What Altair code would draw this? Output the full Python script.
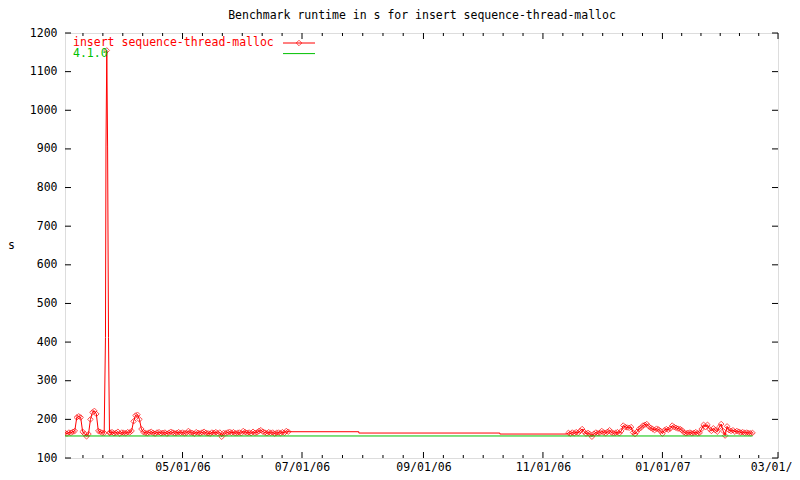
import altair as alt
import pandas as pd

TITLE = "Benchmark runtime in s for insert sequence-thread-malloc"
Y_TITLE = "s"
SERIES = ["insert sequence-thread-malloc", "4.1.0"]
COLORS = ["#ff0000", "#00c000"]
FONT = "DejaVu Sans Mono"
FS = 11.5

# dense daily runs, spring 2006 (None = replaced by the intra-day spike runs)
P1_START = "2006-03-02"
P1_VALUES = [
    165, 163, 166, 165, 168, 170, 205, 208, 205, 168,
    163, 156, 162, 200, 218, 222, 214, 170, 168, 165,
    165, None, None, 166, 167, 164, 165, 168, 163, 166,
    165, 164, 167, 166, 170, 195, 210, 212, 200, 175,
    167, 165, 164, 166, 168, 165, 163, 166, 167, 164,
    165, 166, 163, 165, 168, 166, 164, 165, 167, 165,
    166, 164, 165, 170, 166, 165, 163, 167, 165, 164,
    166, 168, 165, 164, 163, 166, 165, 167, 164, 166,
    155, 165, 164, 166, 168, 165, 167, 164, 165, 166,
    164, 170, 167, 165, 166, 164, 168, 165, 166, 170,
    172, 168, 166, 164, 167, 165, 166, 163, 165, 166,
    164, 167, 165, 170, 168,
]

# spike runs (several per day)
SPIKE_TIMES = ["2006-03-22T16:00", "2006-03-22T22:00", "2006-03-23T08:00",
               "2006-03-23T18:00", "2006-03-24T05:00", "2006-03-24T17:00"]
SPIKE_VALUES = [412, 905, 1155, 905, 412, 165]
SPIKE_MARKED = [False, False, True, False, False, True]

# sparse runs over the summer / autumn gap
STEP_TIMES = ["2006-07-30", "2006-07-30", "2006-10-10", "2006-10-10", "2006-11-13"]
STEP_VALUES = [168, 164.6, 164.6, 162, 162]

# dense daily runs, winter 2006/07
P2_START = "2006-11-14"
P2_VALUES = [
    165, 163, 166, 164, 167, 165, 170, 175, 168, 163,
    165, 162, 155, 163, 166, 164, 165, 170, 166, 164,
    168, 172, 166, 164, 165, 167, 164, 170, 184, 180,
    179, 178, 180, 166, 162, 168, 175, 178, 184, 186,
    188, 182, 178, 175, 172, 176, 174, 170, 163, 172,
    175, 173, 176, 184, 180, 178, 176, 175, 172, 166,
    164, 165, 166, 164, 165, 167, 164, 165, 175, 186,
    180, 186, 175, 170, 177, 172, 168, 180, 188, 170,
    158, 182, 172, 170, 172, 168, 170, 168, 166, 167,
    165, 166, 165, 164, 165,
]

REF_TIMES = ["2006-03-02", "2007-02-16"]
REF_VALUES = [157, 157]

X_DOMAIN = ["2006-03-02", "2007-03-01"]
MAJOR_TICKS = ["2006-05-01", "2006-07-01", "2006-09-01", "2006-11-01", "2007-01-01", "2007-03-01"]
MINOR_ANCHOR = "2006-03-01"
Y_TICKS = list(range(100, 1201, 100))

W, H = 713, 425


def iso(ts):
    return pd.Timestamp(ts).strftime("%Y-%m-%dT%H:%M:%SZ")


def dt(s):
    t = pd.Timestamp(s)
    return alt.DateTime(year=t.year, month=t.month, date=t.day, utc=True)


rows = []
for d, v in zip(pd.date_range(P1_START, periods=len(P1_VALUES), freq="D"), P1_VALUES):
    if v is not None:
        rows.append((pd.Timestamp(d), v, True))
for t, v, m in zip(SPIKE_TIMES, SPIKE_VALUES, SPIKE_MARKED):
    rows.append((pd.Timestamp(t), v, m))
for t, v in zip(STEP_TIMES, STEP_VALUES):
    rows.append((pd.Timestamp(t), v, False))
for d, v in zip(pd.date_range(P2_START, periods=len(P2_VALUES), freq="D"), P2_VALUES):
    rows.append((pd.Timestamp(d), v, True))

df = pd.DataFrame(rows, columns=["ts", "v", "pt"])
df = df.sort_values("ts", kind="mergesort").reset_index(drop=True)
df["ord"] = range(len(df))
df["t"] = df["ts"].map(iso)
df = df[["t", "v", "pt", "ord"]]

ref_df = pd.DataFrame({"t": [iso(t) for t in REF_TIMES], "v": REF_VALUES})

# tick positions (major + 5 minor ticks between each pair of majors)
anchors = [pd.Timestamp(MINOR_ANCHOR)] + [pd.Timestamp(s) for s in MAJOR_TICKS]
minor = []
for a, b in zip(anchors[:-1], anchors[1:]):
    for k in range(1, 6):
        minor.append(a + (b - a) * k / 6)
major_df = pd.DataFrame({"t": [iso(s) for s in MAJOR_TICKS]})
minor_df = pd.DataFrame({"t": [iso(s) for s in minor]})
ytick_df = pd.DataFrame({"v": Y_TICKS})

x_scale = alt.Scale(type="utc", domain=[dt(X_DOMAIN[0]), dt(X_DOMAIN[1])])
y_scale = alt.Scale(domain=[100, 1200], nice=False, zero=False)

x_axis = alt.Axis(values=[dt(s) for s in MAJOR_TICKS], format="%m/%d/%y",
                  ticks=False, tickSize=0, domain=False, grid=False,
                  labelPadding=3, labelFont=FONT, labelFontSize=FS,
                  labelColor="black", labelOverlap=False, labelFlush=False,
                  title=None)
y_axis = alt.Axis(values=Y_TICKS, format="d", ticks=False, tickSize=0, domain=False,
                  grid=False, labelOverlap=False, labelFlush=False,
                  labelPadding=8, labelFont=FONT, labelFontSize=FS, labelColor="black",
                  title=Y_TITLE, titleAngle=0, titleX=-54, titleY=H / 2,
                  titleAlign="center", titleBaseline="middle", titleFont=FONT,
                  titleFontSize=FS, titleFontWeight="normal", titleColor="black")

X = alt.X("t:T", scale=x_scale, axis=x_axis)
Y = alt.Y("v:Q", scale=y_scale, axis=y_axis)

line = alt.Chart(df).mark_line(color=COLORS[0], strokeWidth=1, clip=True).encode(
    x=X, y=Y, order="ord:Q",
)
points = alt.Chart(df).transform_filter("datum.pt").mark_point(
    shape="diamond", filled=False, color=COLORS[0], size=30, strokeWidth=1, clip=True
).encode(x=X, y=Y)
ref = alt.Chart(ref_df).mark_line(color=COLORS[1], strokeWidth=1).encode(x=X, y=Y)

tick_layers = [
    alt.Chart(major_df).mark_rule(color="black", strokeWidth=1).encode(
        x=X, y=alt.value(H), y2=alt.value(H - 6)),
    alt.Chart(major_df).mark_rule(color="black", strokeWidth=1).encode(
        x=X, y=alt.value(0), y2=alt.value(6)),
    alt.Chart(minor_df).mark_rule(color="black", strokeWidth=1).encode(
        x=X, y=alt.value(H), y2=alt.value(H - 3)),
    alt.Chart(minor_df).mark_rule(color="black", strokeWidth=1).encode(
        x=X, y=alt.value(0), y2=alt.value(3)),
    alt.Chart(ytick_df).mark_rule(color="black", strokeWidth=1).encode(
        y=Y, x=alt.value(0), x2=alt.value(6)),
    alt.Chart(ytick_df).mark_rule(color="black", strokeWidth=1).encode(
        y=Y, x=alt.value(W - 6), x2=alt.value(W)),
]

title_layer = alt.Chart(pd.DataFrame({"title": [TITLE]})).mark_text(
    align="center", baseline="middle", font=FONT, fontSize=FS, color="black"
).encode(x=alt.value(W / 2 + 0.5), y=alt.value(-17), text="title:N")

legend_layers = []
LEG_Y = [10, 20.6]
for name, col, yy in zip(SERIES, COLORS, LEG_Y):
    ldf = pd.DataFrame({"name": [name]})
    legend_layers.append(
        alt.Chart(ldf).mark_text(align="left", baseline="middle", font=FONT,
                                 fontSize=FS, color=col).encode(
            x=alt.value(8), y=alt.value(yy), text="name:N"))
    legend_layers.append(
        alt.Chart(ldf).mark_rule(color=col, strokeWidth=1).encode(
            x=alt.value(218), x2=alt.value(250), y=alt.value(yy)))
legend_layers.append(
    alt.Chart(pd.DataFrame({"name": [SERIES[0]]})).mark_point(
        shape="diamond", filled=False, color=COLORS[0], size=30, strokeWidth=1).encode(
        x=alt.value(234), y=alt.value(LEG_Y[0])))

chart = alt.layer(line, points, ref, *tick_layers, title_layer, *legend_layers).properties(
    width=W, height=H,
    padding={"left": 57, "top": 25, "right": 14, "bottom": 14},
    autosize=alt.AutoSizeParams(type="none"),
).configure_view(stroke="black", strokeWidth=1).configure(background="white")

chart.save("out.html", embed_options={"renderer": "svg", "actions": False})
